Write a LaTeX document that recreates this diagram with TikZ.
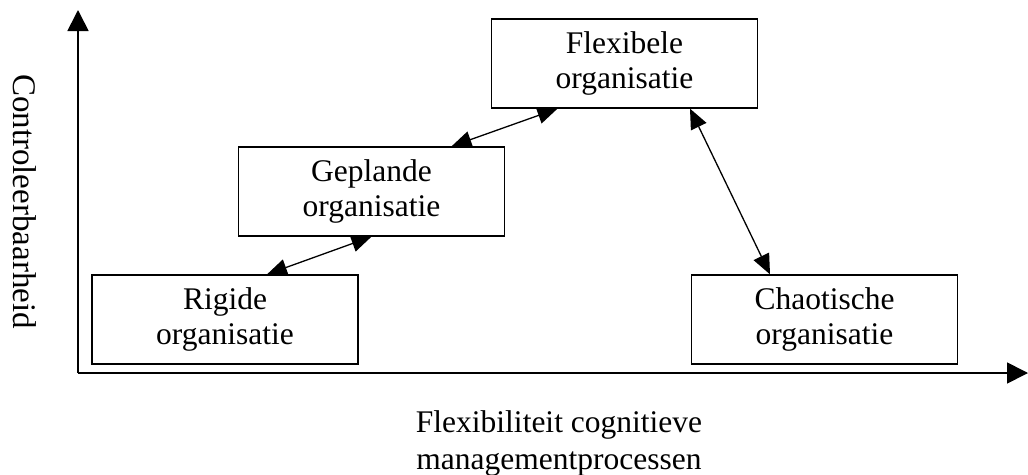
\documentclass[tikz,border=0pt]{standalone}
\usepackage{fontspec}
\setmainfont{Liberation Serif}
\usetikzlibrary{arrows.meta,calc}
\begin{document}
\begin{tikzpicture}[x=1pt,y=-1pt,
  orgbox/.style={draw,line width=1.3pt,minimum width=266pt,minimum height=89pt,inner sep=0pt,align=center,font=\fontsize{31.5}{35}\selectfont},
  lbl/.style={inner sep=0pt,align=center,font=\fontsize{31.5}{37}\selectfont},
  axis/.style={line width=1.7pt,-{Triangle[length=21pt,width=21pt]}},
  link/.style={line width=1.3pt,{Triangle[length=20pt,width=17pt]}-{Triangle[length=20pt,width=17pt]}}]
\useasboundingbox (0,0) rectangle (1028,474);
\coordinate (o) at (78,373);
\coordinate (ytip) at (78,10);
\coordinate (xtip) at (1028,373);
\draw[axis] (o) -- (ytip);
\draw[axis] (o) -- (xtip);
\node[orgbox] (rig) at (225,319.5) {Rigide\\organisatie};
\node[orgbox] (gep) at (371.5,191.5) {Geplande\\organisatie};
\node[orgbox] (flex) at (624.5,63.5) {Flexibele\\organisatie};
\node[orgbox] (chaos) at (824.5,319.5) {Chaotische\\organisatie};
\draw[link] ([xshift=42pt]rig.north) -- (gep.south);
\draw[link] ([xshift=80pt]gep.north) -- ([xshift=-67pt]flex.south);
\draw[link] ([xshift=65.5pt]flex.south) -- ([xshift=-54.5pt]chaos.north);
\node[lbl,rotate=-90,font=\fontsize{33}{38}\selectfont] (ylab) at (25,201.5) {Controleerbaarheid};
\node[lbl] (xlab) at (559,443) {Flexibiliteit cognitieve\\managementprocessen};
\end{tikzpicture}
\end{document}
